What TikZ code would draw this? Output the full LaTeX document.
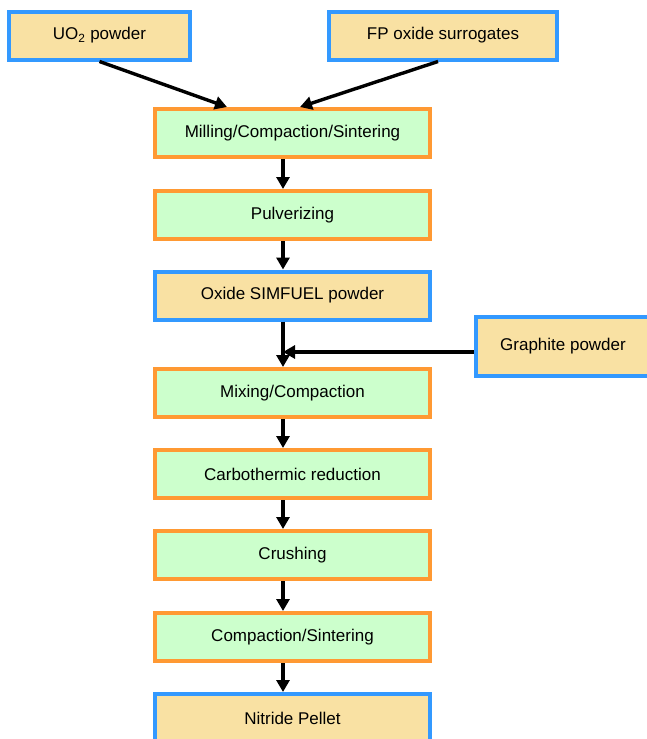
\documentclass[tikz,border=0pt]{standalone}
\usepackage{fontspec}
\setmainfont{Liberation Sans}
\usetikzlibrary{arrows.meta}
\definecolor{inputfill}{HTML}{F9E1A3}
\definecolor{inputline}{HTML}{3399FF}
\definecolor{stepfill}{HTML}{CCFFCC}
\definecolor{stepline}{HTML}{FF9933}

\begin{document}
\begin{tikzpicture}[x=1pt, y=-1pt,
    material/.style={draw=inputline, fill=inputfill, line width=4pt, minimum height=48pt, inner sep=0pt, font=\fontsize{17}{20}\selectfont},
    process/.style={draw=stepline, fill=stepfill, line width=4pt, minimum width=275pt, minimum height=48pt, inner sep=0pt, font=\fontsize{17}{20}\selectfont},
    flow/.style={-{Triangle[length=12pt, width=13pt]}, line width=3.4pt}]
    \useasboundingbox (0,0) rectangle (647,739);

    % Starting materials
    \node[material, minimum width=181pt] (uo2) at (99.5,35.5) {UO\textsubscript{2} powder};
    \node[material, minimum width=228pt] (fp) at (443,35.5) {FP oxide surrogates};
    \node[material, minimum width=174pt, minimum height=59pt] (graph) at (563,346.5) {Graphite powder};

    % Process chain
    \node[process] (mill) at (292.5,133) {Milling/Compaction/Sintering};
    \node[process] (pulv) at (292.5,215) {Pulverizing};
    \node[material, minimum width=275pt] (oxide) at (292.5,295.5) {Oxide SIMFUEL powder};
    \node[process] (mix) at (292.5,393) {Mixing/Compaction};
    \node[process] (carbo) at (292.5,474) {Carbothermic reduction};
    \node[process] (crush) at (292.5,555) {Crushing};
    \node[process] (sinter) at (292.5,637) {Compaction/Sintering};
    \node[material, minimum width=275pt] (pellet) at (292.5,718) {Nitride Pellet};

    \coordinate (spine) at (283,0);
    \coordinate (join) at (283,352);

    % Arrows
    \draw[flow] (uo2.south) -- ([xshift=-65.5pt]mill.north);
    \draw[flow] ([xshift=-5pt]fp.south) -- ([xshift=7.5pt]mill.north);
    \foreach \a/\b in {mill/pulv, pulv/oxide, oxide/mix, mix/carbo, carbo/crush, crush/sinter, sinter/pellet} {
        \draw[flow] (\a.south -| spine) -- (\b.north -| spine);
    }
    \draw[flow] (graph.west |- join) -- (join);
\end{tikzpicture}
\end{document}
